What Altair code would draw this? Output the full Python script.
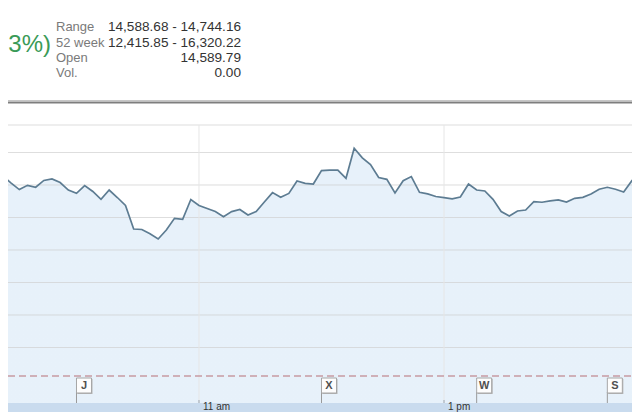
import altair as alt
import pandas as pd

# ---------------- data ----------------
times = ["9:20", "9:24", "9:28", "9:32", "9:36", "9:40", "9:44", "9:48", "9:52", "9:56",
         "10:00", "10:04", "10:08", "10:12", "10:16", "10:20", "10:24", "10:28", "10:32", "10:36",
         "10:40", "10:44", "10:48", "10:52", "10:56", "11:00", "11:04", "11:08", "11:12", "11:16",
         "11:20", "11:24", "11:28", "11:32", "11:36", "11:40", "11:44", "11:48", "11:52", "11:56",
         "12:00", "12:04", "12:08", "12:12", "12:16", "12:20", "12:24", "12:28", "12:32", "12:36",
         "12:40", "12:44", "12:48", "12:52", "12:56", "13:00", "13:04", "13:08", "13:12", "13:16",
         "13:20", "13:24", "13:28", "13:32", "13:36", "13:40", "13:44", "13:48", "13:52", "13:56",
         "14:00", "14:04", "14:08", "14:12", "14:16", "14:20", "14:24", "14:28", "14:32", "14:36"]
prices = [14726.8, 14725.5, 14721.2, 14717.2, 14719.8, 14718.6, 14722.8, 14723.7, 14721.5, 14716.9,
          14714.9, 14719.6, 14716.0, 14711.2, 14716.9, 14712.3, 14707.4, 14692.9, 14692.6, 14690.0,
          14686.8, 14692.3, 14699.5, 14698.9, 14711.1, 14707.4, 14705.5, 14703.7, 14700.5, 14703.6,
          14704.9, 14701.5, 14703.7, 14709.5, 14715.3, 14712.4, 14714.8, 14722.5, 14721.0, 14720.6,
          14728.9, 14729.2, 14729.1, 14724.1, 14742.6, 14736.7, 14732.6, 14724.6, 14723.5, 14715.1,
          14722.6, 14725.2, 14715.5, 14714.5, 14712.9, 14712.2, 14711.5, 14712.6, 14720.6, 14716.9,
          14716.3, 14711.2, 14703.7, 14700.9, 14704.0, 14704.6, 14709.7, 14709.4, 14710.2, 14710.8,
          14709.5, 14711.8, 14712.4, 14714.5, 14717.4, 14718.6, 14717.4, 14715.7, 14722.6, 14719.0]
prev_close = 14602.5
grid_values = [14620, 14640, 14660, 14680, 14700, 14720, 14740]
tick_times = ["11:00", "13:00"]
tick_labels = ["11 am", "1 pm"]
flag_times = ["10:00", "12:00", "13:16", "14:20"]
flag_letters = ["J", "X", "W", "S"]
stat_labels = ["Range", "52 week", "Open", "Vol."]
stat_values = ["14,588.68 - 14,744.16", "12,415.85 - 16,320.22", "14,589.79", "0.00"]
change_text = "3%)"


def to_min(t):
    h, m = t.split(":")
    return int(h) * 60 + int(m)


# ---------------- layout ----------------
W, H = 624, 395          # plot area; 9 px of bottom padding hold the time band
TOTAL_H = 404
x_dom = [566.45, 872.08]
y_dom = [14585.846, 14828.923]
xs = alt.Scale(domain=x_dom, nice=False, zero=False)
ys = alt.Scale(domain=y_dom, nice=False, zero=False)

one = pd.DataFrame({"a": [0]})
price_df = pd.DataFrame({"m": [to_min(t) for t in times], "p": prices})
grid_df = pd.DataFrame({"g": grid_values})
tick_df = pd.DataFrame({"m": [to_min(t) for t in tick_times], "lab": tick_labels})
flag_df = pd.DataFrame({"m": [to_min(t) for t in flag_times], "letter": flag_letters})
prev_df = pd.DataFrame({"p": [prev_close]})

X = alt.X("m:Q", scale=xs, axis=None)

layers = []

# area fill
layers.append(
    alt.Chart(price_df).mark_area(
        clip=True,
        color=alt.Gradient(gradient="linear",
                           stops=[alt.GradientStop(color="#e7f1fa", offset=0),
                                  alt.GradientStop(color="#f1f7fd", offset=1)],
                           x1=0, x2=0, y1=0, y2=1),
    ).encode(x=X, y=alt.Y("p:Q", scale=ys, axis=None), y2=alt.value(H))
)

# horizontal grid lines
layers.append(
    alt.Chart(grid_df).mark_rule(color="#cfcfcf", opacity=0.7, strokeWidth=1).encode(
        y=alt.Y("g:Q", scale=ys, axis=None), x=alt.value(0), x2=alt.value(W))
)
# top frame line
layers.append(
    alt.Chart(one).mark_rule(color="#cfcfcf", opacity=0.7, strokeWidth=1).encode(
        y=alt.value(117), x=alt.value(0), x2=alt.value(W))
)
# vertical grid lines at the labelled times
layers.append(
    alt.Chart(tick_df).mark_rule(color="#e6e6e6", strokeWidth=1).encode(
        x=X, y=alt.value(117), y2=alt.value(H))
)
# previous close
layers.append(
    alt.Chart(prev_df).mark_rule(color="#c89aa3", strokeWidth=1.6, strokeDash=[7, 4]).encode(
        y=alt.Y("p:Q", scale=ys, axis=None), x=alt.value(0), x2=alt.value(W))
)
# price line
layers.append(
    alt.Chart(price_df).mark_line(clip=True, color="#5d7c92", strokeWidth=1.7).encode(
        x=X, y=alt.Y("p:Q", scale=ys, axis=None))
)

# news flags
layers.append(
    alt.Chart(flag_df).mark_rule(color="#9a9a9a", strokeWidth=1).encode(
        x=X, y=alt.value(384), y2=alt.value(H))
)
layers.append(
    alt.Chart(flag_df).mark_point(shape="square", size=225, filled=True, color="#b4b4b4",
                                  opacity=1, xOffset=8.5).encode(x=X, y=alt.value(378.5))
)
layers.append(
    alt.Chart(flag_df).mark_point(shape="square", size=225, filled=True, fill="#fdfdfd",
                                  stroke="#a6a6a6", strokeWidth=1, opacity=1, xOffset=7.5).encode(
        x=X, y=alt.value(377.5))
)
layers.append(
    alt.Chart(flag_df).mark_text(font="Liberation Sans", fontSize=11, fontWeight="bold",
                                 color="#505050", baseline="middle", align="center",
                                 dx=7.5).encode(x=X, y=alt.value(378), text="letter:N")
)

# time band below the plot, with small tick marks and time labels
layers.append(
    alt.Chart(one).mark_rect(color="#c9dbee").encode(
        x=alt.value(0), x2=alt.value(W), y=alt.value(H), y2=alt.value(TOTAL_H))
)
layers.append(
    alt.Chart(tick_df).mark_rule(color="#9aa6b2", strokeWidth=1).encode(
        x=X, y=alt.value(H - 3), y2=alt.value(H))
)
layers.append(
    alt.Chart(tick_df).mark_text(font="Liberation Sans", fontSize=10, color="#333333",
                                 align="left", baseline="alphabetic", dx=4).encode(
        x=X, y=alt.value(401.5), text="lab:N")
)

# header: separator
layers.append(
    alt.Chart(one).mark_rule(color="#c6c6c6", strokeWidth=1).encode(
        y=alt.value(92.5), x=alt.value(0), x2=alt.value(W))
)
layers.append(
    alt.Chart(one).mark_rule(color="#7e7e7e", strokeWidth=2).encode(
        y=alt.value(94.5), x=alt.value(0), x2=alt.value(W))
)

# header: change text and stats
layers.append(
    alt.Chart(one).mark_text(font="Liberation Sans", fontSize=24, color="#3a9a57",
                             align="right", baseline="alphabetic").encode(
        x=alt.value(43), y=alt.value(44), text=alt.value(change_text))
)
row_y = [23, 38.5, 54, 69]
for lab, val, yy in zip(stat_labels, stat_values, row_y):
    layers.append(
        alt.Chart(one).mark_text(font="Liberation Sans", fontSize=13, color="#7a7a7a",
                                 align="left", baseline="alphabetic").encode(
            x=alt.value(48), y=alt.value(yy), text=alt.value(lab))
    )
    layers.append(
        alt.Chart(one).mark_text(font="Liberation Sans", fontSize=13.6, color="#333333",
                                 align="right", baseline="alphabetic").encode(
            x=alt.value(233), y=alt.value(yy), text=alt.value(val))
    )

chart = alt.layer(*layers).properties(
    width=W, height=H,
    autosize=alt.AutoSizeParams(type="none"),
    padding={"left": 0, "right": 0, "top": 0, "bottom": TOTAL_H - H},
    background="white",
).configure_view(stroke=None)

chart.save("out.html", embed_options={"renderer": "svg", "actions": False})
